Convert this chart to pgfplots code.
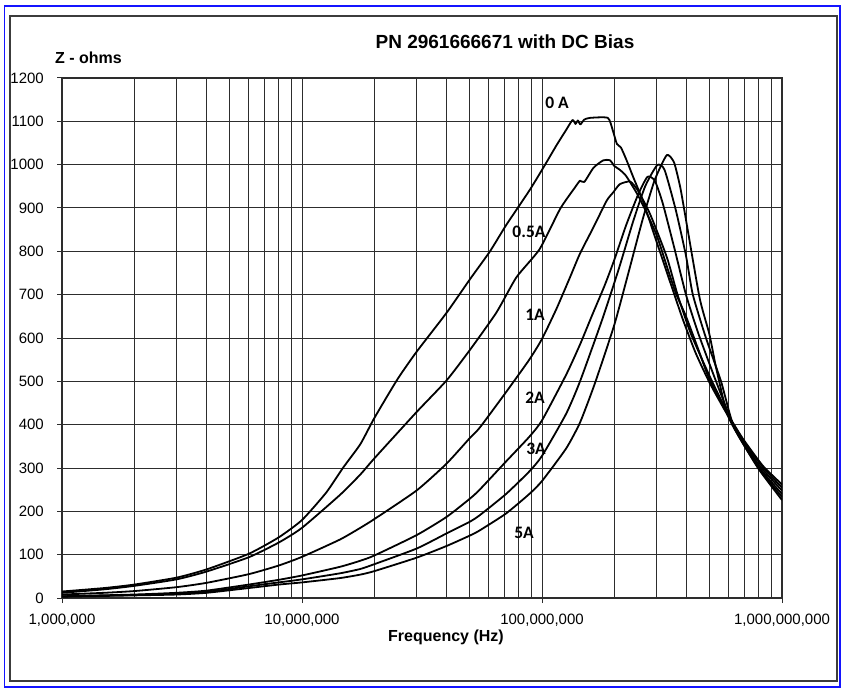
\documentclass[border=0pt]{standalone}
\usepackage{pgfplots}
\pgfplotsset{compat=1.18}
\usepackage{fontspec}
\setmainfont{Liberation Sans}
\newfontfamily\lblfont{Carlito}

\definecolor{gridc}{RGB}{45,45,45}
\definecolor{framec}{RGB}{60,60,60}
\definecolor{bframe}{RGB}{20,20,255}

\pgfplotsset{curve/.style={black, solid, line width=1.8pt, line join=round, smooth, tension=0.35}}

\begin{document}
\begin{tikzpicture}[x=1pt,y=1pt]
\useasboundingbox (0,0) rectangle (843,689);
\fill[white] (0,0) rectangle (843,689);
% outer frames
\draw[bframe, line width=1.2pt] (4.5,2) rectangle (840,683);
\draw[framec, line width=1.5pt] (10,8) rectangle (837,673);

\begin{semilogxaxis}[
    at={(62pt,91pt)}, anchor=south west,
    width=720pt, height=520pt, scale only axis,
    xmin=1e6, xmax=1e9, ymin=0, ymax=1200,
    ytick={0,100,...,1200},
    xtick={1e6,1e7,1e8,1e9},
    xticklabels={{1,000,000},{10,000,000},{100,000,000},{1,000,000,000}},
    grid=both,
    major grid style={line width=1pt, color=gridc},
    minor grid style={line width=1pt, color=gridc},
    axis line style={line width=1.3pt, color=gridc},
    tick style={line width=1pt, color=gridc},
    xtick pos=lower, ytick pos=left,
    tick align=outside, major tick length=5pt, minor tick length=0pt,
    /pgf/number format/assume math mode=true,
    /pgf/number format/1000 sep={},
    tick label style={font=\fontsize{15}{18}\selectfont, inner sep=0pt},
    yticklabel style={xshift=-13pt},
    xticklabel style={yshift=-11pt},
]
% 0 A
\addplot[curve] coordinates {
(1e6,15) (1.5e6,23) (2e6,31) (3e6,47) (4e6,66) (6e6,102) (8e6,140) (1e7,180)
(1.26e7,243) (1.48e7,300) (1.75e7,355) (2e7,415) (2.5e7,505) (3e7,568) (4e7,658)
(5e7,735) (6.07e7,800) (7.08e7,860) (8.85e7,940) (1.01e8,992) (1.15e8,1045)
(1.26e8,1080) (1.34e8,1103) (1.38e8,1094) (1.41e8,1102) (1.445e8,1093) (1.5e8,1104)
(1.585e8,1108) (1.88e8,1108) (1.97e8,1080) (2.05e8,1048) (2.13e8,1040) (2.24e8,1013)
(2.4e8,971) (2.63e8,917) (2.99e8,825) (3.39e8,735) (3.85e8,645) (4.37e8,565)
(5.01e8,495) (5.89e8,425) (6.31e8,400) (6.92e8,365) (8.32e8,305) (1e9,262)
};
% 0.5 A
\addplot[curve] coordinates {
(1e6,12) (1.5e6,20) (2e6,28) (3e6,43) (4e6,61) (6e6,94) (8e6,128) (1e7,162)
(1.44e7,238) (1.75e7,285) (2e7,322) (3e7,429) (4e7,502) (5e7,572) (6.46e7,659)
(7.82e7,740) (9.77e7,805) (1.19e8,898) (1.37e8,947) (1.44e8,963) (1.5e8,960)
(1.64e8,993) (1.8e8,1010) (1.92e8,1010) (2.0e8,997) (2.1e8,989) (2.24e8,974)
(2.54e8,924) (2.99e8,840) (3.39e8,748) (3.63e8,700) (3.98e8,650) (4.47e8,575)
(4.98e8,505) (5.89e8,430) (6.31e8,399) (6.92e8,362) (8.32e8,302) (1e9,255)
};
% 1 A
\addplot[curve] coordinates {
(1e6,8) (1.5e6,12) (2e6,16) (3e6,25) (4e6,35) (6e6,55) (8e6,75) (1e7,95)
(1.44e7,135) (1.75e7,162) (2e7,182) (3e7,248) (4e7,310) (5e7,369) (5.5e7,393)
(7.08e7,475) (8.85e7,550) (1e8,598) (1.15e8,668) (1.31e8,741) (1.44e8,795)
(1.64e8,856) (1.86e8,917) (1.98e8,936) (2.11e8,955) (2.33e8,961) (2.51e8,940)
(2.82e8,886) (3.31e8,787) (3.67e8,700) (4.17e8,610) (5.11e8,500) (6.31e8,398)
(7.94e8,310) (1e9,248)
};
% 2 A
\addplot[curve] coordinates {
(1e6,4) (2e6,8) (3e6,12) (4e6,17) (6e6,31) (8e6,42) (1e7,52) (1.44e7,72)
(1.75e7,86) (2e7,98) (3e7,145) (4e7,187) (5e7,229) (5.5e7,250) (7.08e7,315)
(8.85e7,372) (1e8,410) (1.26e8,515) (1.44e8,585) (1.61e8,650) (1.82e8,720)
(2.0e8,780) (2.24e8,860) (2.51e8,930) (2.75e8,972) (2.95e8,963) (3.18e8,912)
(3.55e8,810) (3.98e8,700) (4.47e8,612) (5.31e8,500) (6.31e8,396) (7.94e8,305) (1e9,240)
};
% 3 A
\addplot[curve] coordinates {
(1e6,4) (2e6,7) (3e6,10) (4e6,14) (6e6,27) (8e6,36) (1e7,43) (1.44e7,57)
(1.75e7,67) (2e7,78) (3e7,114) (4e7,149) (5e7,176) (5.5e7,191) (7.08e7,240)
(8.85e7,292) (1e8,328) (1.26e8,425) (1.44e8,500) (1.78e8,642) (2.09e8,760)
(2.4e8,870) (2.69e8,950) (3.02e8,999) (3.24e8,988) (3.61e8,895) (3.98e8,790)
(4.25e8,700) (4.82e8,600) (5.57e8,500) (6.31e8,394) (7.94e8,302) (1e9,233)
};
% 5 A
\addplot[curve] coordinates {
(1e6,3) (2e6,6) (3e6,8) (4e6,12) (6e6,23) (8e6,31) (1e7,36) (1.44e7,46)
(1.75e7,54) (2e7,62) (3e7,93) (4e7,120) (5e7,144) (5.5e7,156) (7.08e7,195)
(8.85e7,240) (1e8,270) (1.26e8,345) (1.44e8,405) (1.66e8,495) (2.0e8,630)
(2.29e8,750) (2.63e8,875) (2.95e8,965) (3.31e8,1022) (3.55e8,1005) (3.76e8,950)
(3.92e8,894) (4.53e8,694) (4.98e8,609) (5.31e8,532) (5.85e8,432) (6.31e8,392)
(7.94e8,300) (1e9,226)
};
\end{semilogxaxis}

% titles and labels
\node[font=\bfseries\fontsize{19}{22}\selectfont] at (505,647) {PN 2961666671 with DC Bias};
\node[anchor=west, inner sep=0pt, font=\bfseries\fontsize{16}{19}\selectfont] at (55,631) {Z - ohms};
\node[font=\bfseries\fontsize{16}{19}\selectfont] at (446,52) {Frequency (Hz)};

\begin{scope}[every node/.style={font=\lblfont\bfseries\fontsize{17.5}{20}\selectfont, inner sep=0pt}]
\node at (557,586) {0 A};
\node at (529,457) {0.5A};
\node at (535,374) {1A};
\node at (535,291) {2A};
\node at (536,240) {3A};
\node at (524,156) {5A};
\end{scope}
\end{tikzpicture}
\end{document}
